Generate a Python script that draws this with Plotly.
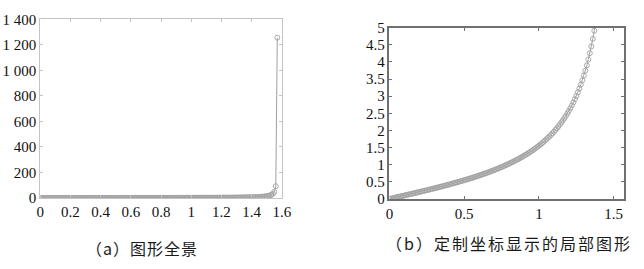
import plotly.graph_objects as go

# x = 0 : 0.01 : 1.57 and y = tan(x), values read/tabulated
x_vals = [round(i * 0.01, 2) for i in range(158)]
y_vals = [
    0.0000, 0.0100, 0.0200, 0.0300, 0.0400, 0.0500, 0.0601, 0.0701, 0.0802, 0.0902,
    0.1003, 0.1104, 0.1206, 0.1307, 0.1409, 0.1511, 0.1614, 0.1717, 0.1820, 0.1923,
    0.2027, 0.2131, 0.2236, 0.2341, 0.2447, 0.2553, 0.2660, 0.2768, 0.2876, 0.2984,
    0.3093, 0.3203, 0.3314, 0.3425, 0.3537, 0.3650, 0.3764, 0.3879, 0.3994, 0.4111,
    0.4228, 0.4346, 0.4466, 0.4586, 0.4708, 0.4831, 0.4954, 0.5080, 0.5206, 0.5334,
    0.5463, 0.5594, 0.5726, 0.5859, 0.5994, 0.6131, 0.6269, 0.6410, 0.6552, 0.6696,
    0.6841, 0.6989, 0.7139, 0.7291, 0.7445, 0.7602, 0.7761, 0.7923, 0.8087, 0.8253,
    0.8423, 0.8595, 0.8771, 0.8949, 0.9131, 0.9316, 0.9505, 0.9697, 0.9893, 1.0092,
    1.0296, 1.0505, 1.0717, 1.0934, 1.1156, 1.1383, 1.1616, 1.1853, 1.2097, 1.2346,
    1.2602, 1.2864, 1.3133, 1.3409, 1.3692, 1.3984, 1.4284, 1.4592, 1.4910, 1.5237,
    1.5574, 1.5922, 1.6281, 1.6652, 1.7036, 1.7433, 1.7844, 1.8270, 1.8712, 1.9171,
    1.9648, 2.0143, 2.0660, 2.1198, 2.1759, 2.2345, 2.2958, 2.3600, 2.4273, 2.4979,
    2.5722, 2.6503, 2.7328, 2.8198, 2.9119, 3.0096, 3.1133, 3.2236, 3.3413, 3.4672,
    3.6021, 3.7471, 3.9033, 4.0723, 4.2556, 4.4552, 4.6734, 4.9131, 5.1774, 5.4707,
    5.7979, 6.1654, 6.5811, 7.0555, 7.6018, 8.2381, 8.9886, 9.8874, 10.9834, 12.3499,
    14.1014, 16.4281, 19.6695, 24.4984, 32.4611, 48.0785, 92.6205, 1255.7656,
]

left_xticks = [0, 0.2, 0.4, 0.6, 0.8, 1, 1.2, 1.4, 1.6]
left_xlabels = ["0", "0.2", "0.4", "0.6", "0.8", "1", "1.2", "1.4", "1.6"]
left_yticks = [0, 200, 400, 600, 800, 1000, 1200, 1400]
left_ylabels = ["0", "200", "400", "600", "800", "1 000", "1 200", "1 400"]
right_xticks = [0, 0.5, 1, 1.5]
right_xlabels = ["0", "0.5", "1", "1.5"]
right_yticks = [0, 0.5, 1, 1.5, 2, 2.5, 3, 3.5, 4, 4.5, 5]
right_ylabels = ["0", "0.5", "1", "1.5", "2", "2.5", "3", "3.5", "4", "4.5", "5"]

caption_a = "（a）图形全景"
caption_b = "（b）定制坐标显示的局部图形"

W, H = 644, 269
GRAY = "#a0a0a0"
SERIF = "Liberation Serif"

fig = go.Figure()
for xa, ya in (("x", "y"), ("x2", "y2")):
    fig.add_trace(go.Scatter(
        x=x_vals, y=y_vals, xaxis=xa, yaxis=ya, mode="lines+markers",
        line=dict(color=GRAY, width=1),
        marker=dict(symbol="circle-open", size=5, color=GRAY, line=dict(width=0.9, color=GRAY)),
        showlegend=False, cliponaxis=True,
    ))

tick_font = dict(family=SERIF, size=15, color="#111111")

def ax(domain, rng, tv, tt, color, lw, anchor):
    return dict(domain=domain, range=rng, tickvals=tv, ticktext=tt, showgrid=False,
                zeroline=False, showline=True, linecolor=color, linewidth=lw, mirror="allticks",
                ticks="inside", ticklen=3, tickcolor=color, tickwidth=1, tickfont=tick_font,
                anchor=anchor, fixedrange=True)

fig.update_layout(
    width=W, height=H, margin=dict(l=0, r=0, t=0, b=0),
    paper_bgcolor="white", plot_bgcolor="white",
    xaxis=ax([37 / W, 284 / W], [0, 1.6], left_xticks, left_xlabels, "#c4c4c4", 1, "y"),
    yaxis=ax([1 - 202 / H, 1 - 12 / H], [0, 1400], left_yticks, left_ylabels, "#c4c4c4", 1, "x"),
    xaxis2=ax([394 / W, 634 / W], [0, 1.57], right_xticks, right_xlabels, "#707070", 1.6, "y2"),
    yaxis2=ax([1 - 203 / H, 1 - 21 / H], [0, 5], right_yticks, right_ylabels, "#707070", 1.6, "x2"),
)

cap_font = dict(family="Noto Sans CJK SC", size=16, color="#1a1a1a")
fig.add_annotation(text='<span style="letter-spacing:1px">' + caption_a + "</span>",
                   x=141 / W, y=1 - 255 / H, xref="paper", yref="paper",
                   showarrow=False, font=cap_font, xanchor="center", yanchor="middle")
fig.add_annotation(text='<span style="letter-spacing:2px">' + caption_b + "</span>",
                   x=516 / W, y=1 - 250 / H, xref="paper", yref="paper",
                   showarrow=False, font=cap_font, xanchor="center", yanchor="middle")

fig.write_html("out.html")
